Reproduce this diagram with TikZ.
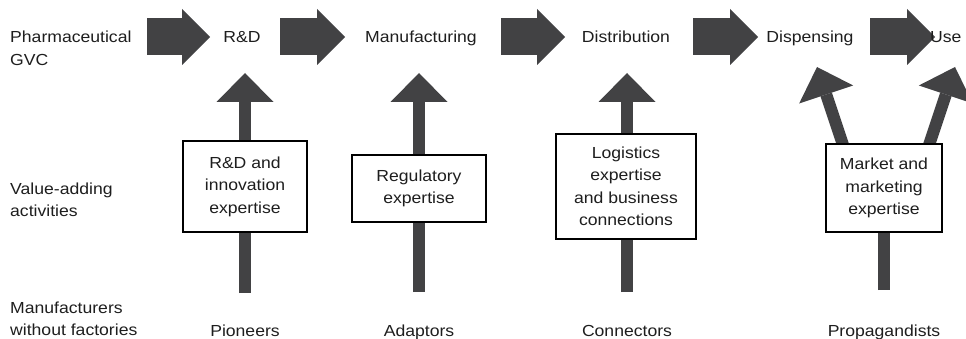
\documentclass[tikz,border=0pt]{standalone}
\usepackage{fontspec}
\setmainfont{Liberation Sans}[FakeStretch=1.1]
\usetikzlibrary{arrows.meta}
\definecolor{arrowgray}{RGB}{66,66,68}
\definecolor{inkgray}{RGB}{30,30,30}
\begin{document}
\begin{tikzpicture}[x=1pt,y=-1pt,
  lbl/.style={font=\fontsize{16}{22.5}\selectfont, text=inkgray, inner sep=0pt},
  sidelbl/.style={lbl, align=left, anchor=west},
  stage/.style={lbl, anchor=base},
  actor/.style={lbl, anchor=base},
  expbox/.style={lbl, draw=black, line width=1.3pt, fill=white, align=center},
  flowarrow/.style={draw=arrowgray, line width=37pt,
    -{Triangle[length=28pt,width=56pt,line width=0pt]}},
  liftarrow/.style={draw=arrowgray, line width=12pt,
    -{Triangle[length=29pt,width=57pt,line width=0pt]}},
  stem/.style={draw=arrowgray, line width=12pt}]
\useasboundingbox (0,0) rectangle (966,339);

% ---- end points of the block arrows along the value chain
\coordinate (f1s) at (147,37); \coordinate (f1e) at (210,37);
\coordinate (f2s) at (280,37); \coordinate (f2e) at (345,37);
\coordinate (f3s) at (501,37); \coordinate (f3e) at (565,37);
\coordinate (f4s) at (693,37); \coordinate (f4e) at (758,37);
\coordinate (f5s) at (870,37); \coordinate (f5e) at (935,37);

% ---- end points of the rising arrows
\coordinate (rdbase)   at (245,293); \coordinate (rdtip)   at (245,73);
\coordinate (mfgbase)  at (419,292); \coordinate (mfgtip)  at (419,73);
\coordinate (distbase) at (627,292); \coordinate (disttip) at (627,73);
\coordinate (mkbase)   at (884,290);
\coordinate (mkl) at (858,190); \coordinate (disptip) at (817,67);
\coordinate (mkr) at (914,190); \coordinate (usetip)  at (955,67);

% ---- value chain arrows
\draw[flowarrow] (f1s) -- (f1e);
\draw[flowarrow] (f2s) -- (f2e);
\draw[flowarrow] (f3s) -- (f3e);
\draw[flowarrow] (f4s) -- (f4e);
\draw[flowarrow] (f5s) -- (f5e);

% ---- arrows rising from the firm types
\draw[liftarrow] (rdbase) -- (rdtip);
\draw[liftarrow] (mfgbase) -- (mfgtip);
\draw[liftarrow] (distbase) -- (disttip);
\draw[liftarrow] (mkl) -- (disptip);
\draw[liftarrow] (mkr) -- (usetip);

% ---- row headings
\node[sidelbl] (gvc) at (10,48.5) {Pharmaceutical\\GVC};
\node[sidelbl] (vaa) at (10,200) {Value-adding\\activities};
\node[sidelbl] (mwf) at (10,319) {Manufacturers\\without factories};

% ---- stages of the chain
\node[stage] (rd)   at (242,43) {R\&D};
\node[stage] (mfg)  at (421,43) {Manufacturing};
\node[stage] (dist) at (626,43) {Distribution};
\node[stage] (disp) at (810,43) {Dispensing};
\node[lbl, anchor=base west] (use) at (930,43) {Use};

% ---- activity boxes
\node[expbox, minimum width=124pt, minimum height=91pt] (rdbox) at (245,186.5)
  {R\&D and\\innovation\\expertise};
\node[expbox, minimum width=134pt, minimum height=67pt] (regbox) at (419,188.5)
  {Regulatory\\expertise};
\node[expbox, minimum width=140pt, minimum height=105pt] (logbox) at (626,186.5)
  {Logistics\\expertise\\and business\\connections};
\node[expbox, minimum width=116pt, minimum height=88pt] (mkbox) at (884,188)
  {Market and\\marketing\\expertise};
\draw[stem] (mkbase) -- (mkbox.south);

% ---- firm types
\node[actor] (pio) at (245,336) {Pioneers};
\node[actor] (ada) at (419,336) {Adaptors};
\node[actor] (con) at (627,336) {Connectors};
\node[actor] (pro) at (884,336) {Propagandists};
\end{tikzpicture}
\end{document}
